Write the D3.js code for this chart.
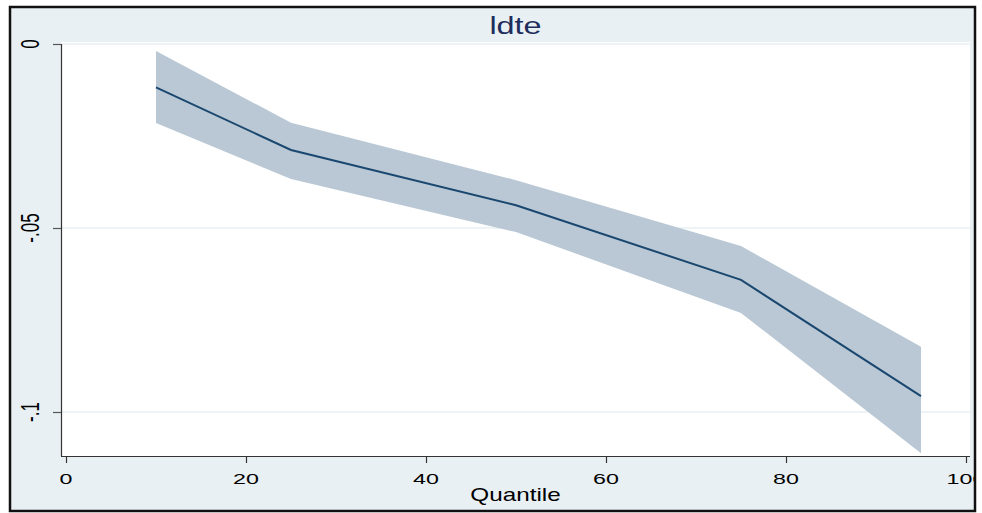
<!DOCTYPE html>
<html><head><meta charset="utf-8">
<script src="https://cdn.jsdelivr.net/npm/d3@7"></script>
<style>html,body{margin:0;padding:0;background:#fff;}svg{display:block;}</style>
</head><body>
<svg id="chart" width="982" height="513"></svg>
<script>
const quantiles = [10, 25, 50, 75, 95];
const estimate  = [-0.0118, -0.0288, -0.0438, -0.0641, -0.0957];
const upperCI   = [-0.0019, -0.0214, -0.0370, -0.0549, -0.0823];
const lowerCI   = [-0.0215, -0.0367, -0.0511, -0.0731, -0.1112];
const xTicks = [0, 20, 40, 60, 80, 100];
const yTicks = [0, -0.05, -0.1];
const yTickLabels = ["0", "-.05", "-.1"];
const title = "ldte";
const xTitle = "Quantile";

const svg = d3.select("#chart");
const frame = {x0: 10, y0: 7, x1: 975, y1: 511};
const plot = {x0: 61, y0: 42, x1: 970, y1: 456};

const x = d3.scaleLinear().domain([0, 100]).range([66, 966]);
const y = d3.scaleLinear().domain([0, -0.1]).range([44, 412]);

svg.append("defs").append("clipPath").attr("id", "fclip")
  .append("rect").attr("x", frame.x0).attr("y", frame.y0)
  .attr("width", frame.x1 - frame.x0).attr("height", frame.y1 - frame.y0);

svg.append("rect").attr("x", frame.x0).attr("y", frame.y0)
  .attr("width", frame.x1 - frame.x0).attr("height", frame.y1 - frame.y0)
  .attr("fill", "#e9f0f3");
svg.append("rect").attr("x", plot.x0).attr("y", plot.y0)
  .attr("width", plot.x1 - plot.x0).attr("height", plot.y1 - plot.y0)
  .attr("fill", "#ffffff");

svg.append("g").selectAll("line").data(yTicks).join("line")
  .attr("x1", plot.x0).attr("x2", plot.x1)
  .attr("y1", d => y(d)).attr("y2", d => y(d))
  .attr("stroke", "#e9f0f3").attr("stroke-width", 1.5);

const data = quantiles.map((q, i) => ({q, e: estimate[i], lo: lowerCI[i], hi: upperCI[i]}));

svg.append("path").datum(data)
  .attr("d", d3.area().x(d => x(d.q)).y0(d => y(d.lo)).y1(d => y(d.hi)))
  .attr("fill", "#b9c8d4");

svg.append("path").datum(data)
  .attr("d", d3.line().x(d => x(d.q)).y(d => y(d.e)))
  .attr("fill", "none").attr("stroke", "#1a476f").attr("stroke-width", 2);

const txt = svg.append("g").attr("clip-path", "url(#fclip)")
  .attr("font-family", "'Liberation Sans', Arial, sans-serif").attr("fill", "#000");

const yAxis = svg.append("g").attr("transform", `translate(${plot.x0},0)`)
  .call(d3.axisLeft(y).tickValues(yTicks).tickSize(8).tickFormat(""));
yAxis.select(".domain").attr("d", `M0.5,${y(0)}V${plot.y1}`).attr("stroke", "#333").attr("stroke-width", 1.2);
yAxis.selectAll(".tick line").attr("stroke", "#555").attr("stroke-width", 1.2);

txt.selectAll("text.ylab").data(yTicks).join("text").attr("class", "ylab")
  .attr("transform", d => `translate(39,${y(d)}) scale(1.55,1) rotate(-90)`)
  .attr("text-anchor", "middle").attr("font-size", 17)
  .text((d, i) => yTickLabels[i]);

const xAxis = svg.append("g").attr("transform", `translate(0,${plot.y1})`)
  .call(d3.axisBottom(x).tickValues(xTicks).tickSize(7).tickFormat(""));
xAxis.select(".domain").attr("d", `M${plot.x0},0.5H${plot.x1}`).attr("stroke", "#333").attr("stroke-width", 1.2);
xAxis.selectAll(".tick line").attr("stroke", "#333").attr("stroke-width", 1.2);

txt.selectAll("text.xlab").data(xTicks).join("text").attr("class", "xlab")
  .attr("transform", d => `translate(${x(d)},484) scale(1.5,1)`)
  .attr("text-anchor", "middle").attr("font-size", 15.5)
  .text(d => d3.format("d")(d));

txt.append("text")
  .attr("transform", `translate(${(plot.x0 + plot.x1) / 2},501) scale(1.35,1)`)
  .attr("text-anchor", "middle").attr("font-size", 18)
  .text(xTitle);

txt.append("text")
  .attr("transform", `translate(${(plot.x0 + plot.x1) / 2},34) scale(1.35,1)`)
  .attr("text-anchor", "middle").attr("font-size", 24).attr("fill", "#1e2d5c")
  .text(title);

svg.append("rect").attr("x", frame.x0).attr("y", frame.y0)
  .attr("width", frame.x1 - frame.x0).attr("height", frame.y1 - frame.y0)
  .attr("fill", "none").attr("stroke", "#111").attr("stroke-width", 2.5);
</script>
</body></html>
